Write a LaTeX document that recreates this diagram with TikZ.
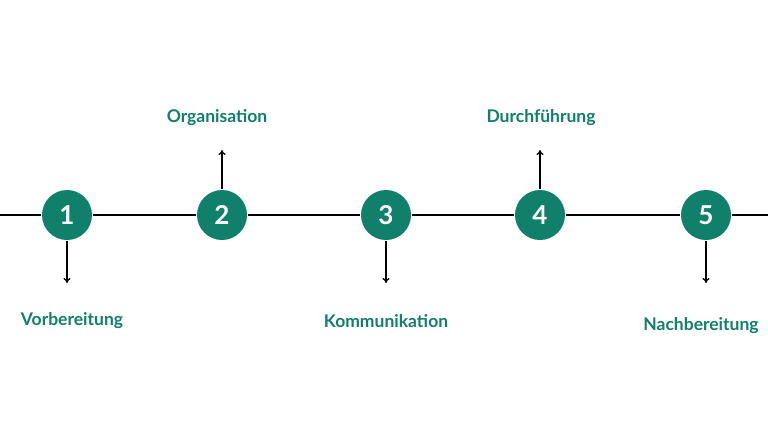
\documentclass[tikz,border=0pt]{standalone}
\usepackage{fontspec}
\setmainfont{Lato}
\usetikzlibrary{arrows.meta}
\definecolor{phase}{HTML}{10806A}
\tikzset{
  stepdot/.style={circle,fill=phase,minimum size=50pt,inner sep=0pt,
    text=white,font=\fontsize{26}{26}\selectfont\bfseries},
  phaselabel/.style={text=phase,font=\fontsize{17.5}{17.5}\selectfont\bfseries}
}
\begin{document}
\begin{tikzpicture}[x=1pt,y=-1pt,line width=2pt,>={To[length=5pt,width=7pt]}]
    \useasboundingbox (0,0) rectangle (768,432);
    \coordinate (lstart) at (0,215);
    \coordinate (lend) at (768,215);
    \node[stepdot] (s1) at (67,215) {1};
    \node[stepdot] (s2) at (222,215) {2};
    \node[stepdot] (s3) at (386,215) {3};
    \node[stepdot] (s4) at (540,215) {4};
    \node[stepdot] (s5) at (706,215) {5};
    \draw (lstart) -- (s1) -- (s2) -- (s3) -- (s4) -- (s5) -- (lend);
    \coordinate (a1) at (67,283);
    \coordinate (a2) at (222,150);
    \coordinate (a3) at (386,283);
    \coordinate (a4) at (540,150);
    \coordinate (a5) at (706,283);
    \draw[->,line width=1.3pt] (s1.south) -- (a1);
    \draw[->,line width=1.3pt] (s2.north) -- (a2);
    \draw[->,line width=1.3pt] (s3.south) -- (a3);
    \draw[->,line width=1.3pt] (s4.north) -- (a4);
    \draw[->,line width=1.3pt] (s5.south) -- (a5);
    \node[phaselabel] (vor) at (72,321) {Vorbereitung};
    \node[phaselabel] (org) at (217,118) {Organisation};
    \node[phaselabel] (kom) at (386,321) {Kommunikation};
    \node[phaselabel] (dur) at (541,118) {Durchführung};
    \node[phaselabel] (nach) at (701,326) {Nachbereitung};
  \end{tikzpicture}
\end{document}
